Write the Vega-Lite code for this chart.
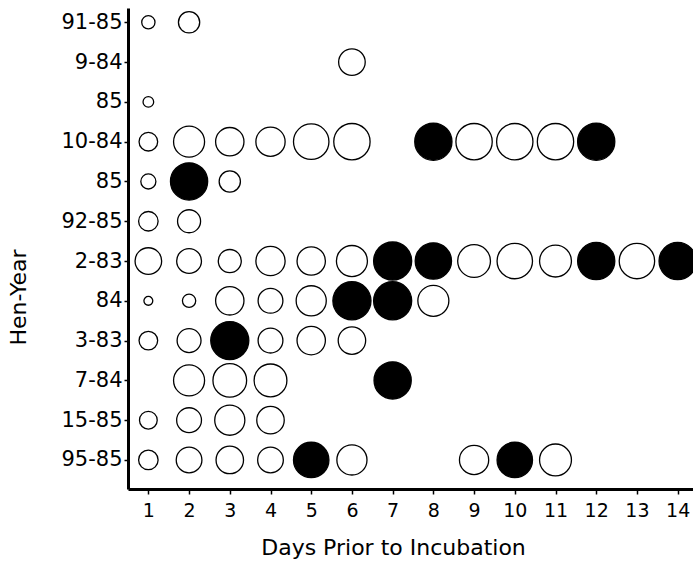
{
  "$schema": "https://vega.github.io/schema/vega-lite/v6.json",
  "width": 570,
  "height": 481,
  "autosize": "none",
  "padding": {"left": 128, "top": 8, "right": 0, "bottom": 73},
  "background": "white",
  "view": {"stroke": null},
  "config": {
    "font": "DejaVu Sans",
    "axis": {
      "domainColor": "black",
      "domainWidth": 3,
      "tickColor": "black",
      "tickWidth": 1.5,
      "tickSize": 5,
      "grid": false,
      "labelColor": "black",
      "titleColor": "black",
      "labelFont": "DejaVu Sans",
      "titleFont": "DejaVu Sans",
      "titleFontWeight": "normal"
    }
  },
  "data": {
    "values": [
      {"row": 12, "hen": "91-85", "day": 1, "d": 15, "egg": "open"},
      {"row": 12, "hen": "91-85", "day": 2, "d": 24, "egg": "open"},
      {"row": 11, "hen": "9-84", "day": 6, "d": 30, "egg": "open"},
      {"row": 10, "hen": "85", "day": 1, "d": 12, "egg": "open"},
      {"row": 9, "hen": "10-84", "day": 1, "d": 21, "egg": "open"},
      {"row": 9, "hen": "10-84", "day": 2, "d": 35, "egg": "open"},
      {"row": 9, "hen": "10-84", "day": 3, "d": 32, "egg": "open"},
      {"row": 9, "hen": "10-84", "day": 4, "d": 33, "egg": "open"},
      {"row": 9, "hen": "10-84", "day": 5, "d": 40, "egg": "open"},
      {"row": 9, "hen": "10-84", "day": 6, "d": 41, "egg": "open"},
      {"row": 9, "hen": "10-84", "day": 8, "d": 42, "egg": "filled"},
      {"row": 9, "hen": "10-84", "day": 9, "d": 41, "egg": "open"},
      {"row": 9, "hen": "10-84", "day": 10, "d": 41, "egg": "open"},
      {"row": 9, "hen": "10-84", "day": 11, "d": 41, "egg": "open"},
      {"row": 9, "hen": "10-84", "day": 12, "d": 42, "egg": "filled"},
      {"row": 8, "hen": "85", "day": 1, "d": 17, "egg": "open"},
      {"row": 8, "hen": "85", "day": 2, "d": 42, "egg": "filled"},
      {"row": 8, "hen": "85", "day": 3, "d": 24, "egg": "open"},
      {"row": 7, "hen": "92-85", "day": 1, "d": 22, "egg": "open"},
      {"row": 7, "hen": "92-85", "day": 2, "d": 26, "egg": "open"},
      {"row": 6, "hen": "2-83", "day": 1, "d": 30, "egg": "open"},
      {"row": 6, "hen": "2-83", "day": 2, "d": 28, "egg": "open"},
      {"row": 6, "hen": "2-83", "day": 3, "d": 26, "egg": "open"},
      {"row": 6, "hen": "2-83", "day": 4, "d": 33, "egg": "open"},
      {"row": 6, "hen": "2-83", "day": 5, "d": 32, "egg": "open"},
      {"row": 6, "hen": "2-83", "day": 6, "d": 35, "egg": "open"},
      {"row": 6, "hen": "2-83", "day": 7, "d": 43, "egg": "filled"},
      {"row": 6, "hen": "2-83", "day": 8, "d": 41, "egg": "filled"},
      {"row": 6, "hen": "2-83", "day": 9, "d": 37, "egg": "open"},
      {"row": 6, "hen": "2-83", "day": 10, "d": 40, "egg": "open"},
      {"row": 6, "hen": "2-83", "day": 11, "d": 36, "egg": "open"},
      {"row": 6, "hen": "2-83", "day": 12, "d": 42, "egg": "filled"},
      {"row": 6, "hen": "2-83", "day": 13, "d": 40, "egg": "open"},
      {"row": 6, "hen": "2-83", "day": 14, "d": 42, "egg": "filled"},
      {"row": 5, "hen": "84", "day": 1, "d": 10, "egg": "open"},
      {"row": 5, "hen": "84", "day": 2, "d": 15, "egg": "open"},
      {"row": 5, "hen": "84", "day": 3, "d": 32, "egg": "open"},
      {"row": 5, "hen": "84", "day": 4, "d": 28, "egg": "open"},
      {"row": 5, "hen": "84", "day": 5, "d": 34, "egg": "open"},
      {"row": 5, "hen": "84", "day": 6, "d": 43, "egg": "filled"},
      {"row": 5, "hen": "84", "day": 7, "d": 43, "egg": "filled"},
      {"row": 5, "hen": "84", "day": 8, "d": 35, "egg": "open"},
      {"row": 4, "hen": "3-83", "day": 1, "d": 21, "egg": "open"},
      {"row": 4, "hen": "3-83", "day": 2, "d": 27, "egg": "open"},
      {"row": 4, "hen": "3-83", "day": 3, "d": 43, "egg": "filled"},
      {"row": 4, "hen": "3-83", "day": 4, "d": 28, "egg": "open"},
      {"row": 4, "hen": "3-83", "day": 5, "d": 32, "egg": "open"},
      {"row": 4, "hen": "3-83", "day": 6, "d": 31, "egg": "open"},
      {"row": 3, "hen": "7-84", "day": 2, "d": 35, "egg": "open"},
      {"row": 3, "hen": "7-84", "day": 3, "d": 38, "egg": "open"},
      {"row": 3, "hen": "7-84", "day": 4, "d": 37, "egg": "open"},
      {"row": 3, "hen": "7-84", "day": 7, "d": 42, "egg": "filled"},
      {"row": 2, "hen": "15-85", "day": 1, "d": 20, "egg": "open"},
      {"row": 2, "hen": "15-85", "day": 2, "d": 28, "egg": "open"},
      {"row": 2, "hen": "15-85", "day": 3, "d": 34, "egg": "open"},
      {"row": 2, "hen": "15-85", "day": 4, "d": 31, "egg": "open"},
      {"row": 1, "hen": "95-85", "day": 1, "d": 22, "egg": "open"},
      {"row": 1, "hen": "95-85", "day": 2, "d": 29, "egg": "open"},
      {"row": 1, "hen": "95-85", "day": 3, "d": 31, "egg": "open"},
      {"row": 1, "hen": "95-85", "day": 4, "d": 29, "egg": "open"},
      {"row": 1, "hen": "95-85", "day": 5, "d": 40, "egg": "filled"},
      {"row": 1, "hen": "95-85", "day": 6, "d": 34, "egg": "open"},
      {"row": 1, "hen": "95-85", "day": 9, "d": 33, "egg": "open"},
      {"row": 1, "hen": "95-85", "day": 10, "d": 40, "egg": "filled"},
      {"row": 1, "hen": "95-85", "day": 11, "d": 36, "egg": "open"}
    ]
  },
  "mark": {"type": "circle", "stroke": "black", "strokeWidth": 1.3, "opacity": 1},
  "encoding": {
    "x": {
      "field": "day",
      "type": "quantitative",
      "scale": {"domain": [0.5, 14.5], "nice": false, "zero": false},
      "axis": {
        "title": "Days Prior to Incubation",
        "values": [1, 2, 3, 4, 5, 6, 7, 8, 9, 10, 11, 12, 13, 14],
        "labelFontSize": 19,
        "labelPadding": 7,
        "labelFlush": false,
        "titleFontSize": 22,
        "titleX": 265,
        "titleY": 65,
        "titleBaseline": "alphabetic"
      }
    },
    "y": {
      "field": "row",
      "type": "quantitative",
      "scale": {"domain": [0.27, 12.36], "nice": false, "zero": false},
      "axis": {
        "title": "Hen-Year",
        "values": [1, 2, 3, 4, 5, 6, 7, 8, 9, 10, 11, 12],
        "labelExpr": "['95-85','15-85','7-84','3-83','84','2-83','92-85','85','10-84','85','9-84','91-85'][datum.value-1]",
        "labelFontSize": 21,
        "labelPadding": 2,
        "tickSize": 4,
        "titleFontSize": 22,
        "titleX": -110,
        "titleY": 289,
        "titleAngle": -90,
        "titleAlign": "center",
        "titleBaseline": "middle"
      }
    },
    "size": {
      "field": "d",
      "type": "quantitative",
      "scale": {"type": "pow", "exponent": 2, "domain": [0, 45], "range": [0, 1590]},
      "legend": null
    },
    "fill": {
      "field": "egg",
      "type": "nominal",
      "scale": {"domain": ["open", "filled"], "range": ["white", "black"]},
      "legend": null
    }
  }
}
